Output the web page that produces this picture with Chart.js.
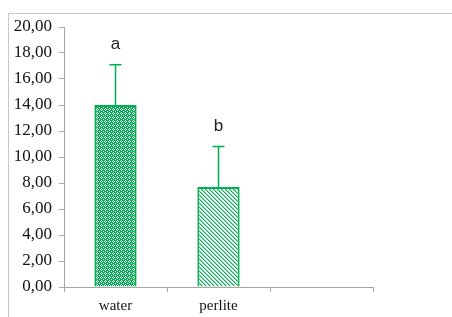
<!DOCTYPE html>
<html>
<head>
<meta charset="utf-8">
<script src="https://cdn.jsdelivr.net/npm/chart.js@4"></script>
<style>
    html, body { margin: 0; padding: 0; background: #fff; }
    #wrap { position: relative; width: 452px; height: 317px; }
    #frame { position: absolute; left: 8px; top: 13px; right: 0; bottom: 0; border-top: 1px solid #c8c8c8; border-left: 1px solid #c8c8c8; }
    #chart { position: absolute; left: 0; top: 0; }
</style>
</head>
<body>
<div id="wrap">
    <div id="frame"></div>
    <canvas id="chart" width="452" height="317"></canvas>
</div>
<script>
const categories = ['water', 'perlite', ''];
const means = [14.0, 7.7, null];
const errors = [3.1, 3.1, null];
const letters = ['a', 'b', ''];
const yTicks = { min: 0, max: 20, step: 2 };

const green = '#00b050';

function makePattern(kind) {
    let c = document.createElement('canvas');
    c.width = 4; c.height = 4;
    let ctx = c.getContext('2d');
    if (kind === 'dots') {
        ctx.fillStyle = green;
        ctx.fillRect(0, 0, 4, 4);
        ctx.fillStyle = '#ffffff';
        [[0, 1], [1, 0], [2, 1], [1, 2], [3, 3]].forEach(p => ctx.fillRect(p[0], p[1], 1, 1));
    } else {
        ctx.fillStyle = '#ffffff';
        ctx.fillRect(0, 0, 4, 4);
        for (let y = 0; y < 4; y++) {
            ctx.fillStyle = green;
            ctx.fillRect(y % 4, y, 1, 1);
            ctx.fillStyle = '#8fdcb2';
            ctx.fillRect((y + 1) % 4, y, 1, 1);
        }
    }
    return ctx.createPattern(c, 'repeat');
}

const errorBars = {
    id: 'errorBars',
    afterDatasetsDraw(chart) {
        let ctx = chart.ctx;
        let meta = chart.getDatasetMeta(0);
        let y = chart.scales.y;
        ctx.save();
        meta.data.forEach((bar, i) => {
            if (means[i] == null) return;
            let top = y.getPixelForValue(means[i] + errors[i]);
            ctx.strokeStyle = green;
            ctx.lineWidth = 1.5;
            ctx.beginPath();
            ctx.moveTo(bar.x, bar.y);
            ctx.lineTo(bar.x, top);
            ctx.moveTo(bar.x - 6, top);
            ctx.lineTo(bar.x + 6, top);
            ctx.stroke();
            ctx.fillStyle = '#222';
            ctx.font = '17px "Liberation Sans", Arial, sans-serif';
            ctx.textAlign = 'center';
            ctx.textBaseline = 'middle';
            ctx.fillText(letters[i], bar.x, top - 20);
        });
        ctx.restore();
    }
};

new Chart(document.getElementById('chart'), {
    type: 'bar',
    data: {
        labels: categories,
        datasets: [{
            data: means,
            backgroundColor: [makePattern('dots'), makePattern('stripes'), green],
            borderColor: green,
            borderWidth: 2,
            borderSkipped: 'bottom',
            barPercentage: 1,
            categoryPercentage: 0.41
        }]
    },
    options: {
        responsive: false,
        animation: false,
        layout: { padding: { top: 27, right: 79, left: 0, bottom: 0 } },
        plugins: { legend: { display: false }, tooltip: { enabled: false } },
        scales: {
            x: {
                grid: { drawOnChartArea: false, offset: true, tickLength: 5, color: '#a6a6a6' },
                border: { color: '#a6a6a6', width: 1 },
                ticks: { color: '#111', padding: 5, font: { family: '"Liberation Serif", "Times New Roman", serif', size: 15 } },
                afterFit: s => { s.height = 30; }
            },
            y: {
                min: yTicks.min,
                max: yTicks.max,
                grid: { drawOnChartArea: false, tickLength: 5, color: '#a6a6a6' },
                border: { color: '#a6a6a6', width: 1 },
                ticks: {
                    stepSize: yTicks.step,
                    color: '#111',
                    padding: 7,
                    font: { family: '"Liberation Serif", "Times New Roman", serif', size: 17 },
                    callback: v => v.toFixed(2).replace('.', ',')
                },
                afterFit: s => { s.width = 64; }
            }
        }
    },
    plugins: [errorBars]
});
</script>
</body>
</html>
